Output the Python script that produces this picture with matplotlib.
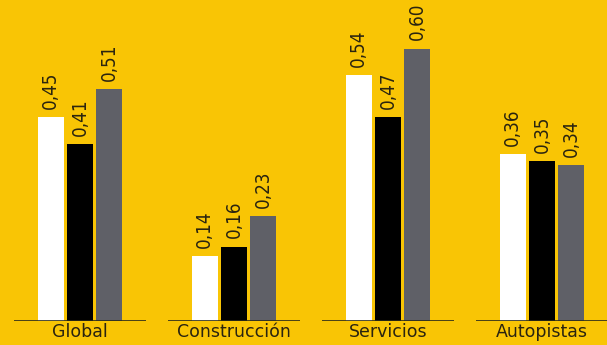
import matplotlib.pyplot as plt
import numpy as np

categories = ['Global', 'Construcción', 'Servicios', 'Autopistas']
# bar heights as drawn, and the labels printed above them
white_vals = [0.450, 0.143, 0.542, 0.368]
black_vals = [0.390, 0.163, 0.450, 0.352]
gray_vals = [0.512, 0.231, 0.601, 0.343]
white_lbl = ['0,45', '0,14', '0,54', '0,36']
black_lbl = ['0,41', '0,16', '0,47', '0,35']
gray_lbl = ['0,51', '0,23', '0,60', '0,34']

bg = '#F9C505'
txt = '#2a2410'

fig = plt.figure(figsize=(6.07, 3.45), dpi=100, facecolor=bg)
ax = fig.add_axes([0, 0.071, 1, 0.929])
ax.set_facecolor(bg)

x = np.arange(len(categories))
w = 0.169
off = 0.19
series = [
    (white_vals, white_lbl, '#FFFFFF', -off),
    (black_vals, black_lbl, '#000000', 0),
    (gray_vals, gray_lbl, '#5F6067', off),
]
for vals, lbls, col, dx in series:
    bars = ax.bar(x + dx, vals, width=w, color=col, zorder=2)
    for b, lb in zip(bars, lbls):
        ax.annotate(lb, (b.get_x() + b.get_width() / 2, b.get_height()),
                    xytext=(0, 6), textcoords='offset points',
                    rotation=90, ha='center', va='bottom', fontsize=13.5,
                    fontstretch='condensed', fontweight='light',
                    color=txt, family='DejaVu Sans')

# separate baseline under each group
ax.hlines(np.zeros(len(x)), x - 0.43, x + 0.43, color='#2b2b1a', lw=1.2, zorder=3)

ax.set_xlim(-0.519, 3.422)
ax.set_ylim(0, 0.709)
ax.set_xticks(x)
ax.set_xticklabels(categories, fontsize=12.5, color=txt)
ax.tick_params(axis='x', length=0, pad=2)
ax.set_yticks([])
for s in ax.spines.values():
    s.set_visible(False)

fig.savefig('out.png', dpi=100, facecolor=bg)
